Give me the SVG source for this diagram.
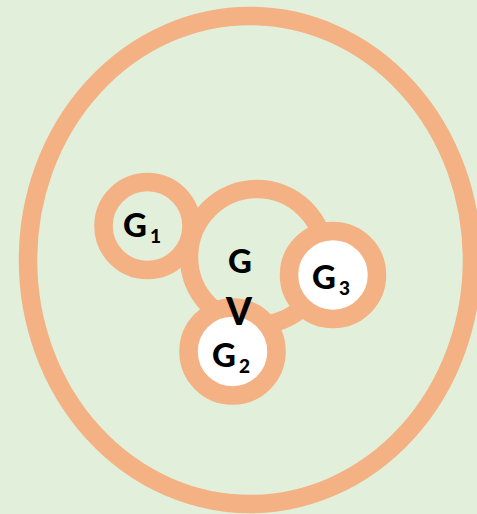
<svg xmlns="http://www.w3.org/2000/svg" width="477" height="514" viewBox="0 0 477 514">
<style>
.ring{stroke:#f4b183;stroke-width:18.5}
.in{fill:#e2efda}
.wh{fill:#ffffff}
.t{font-family:Lato,"DejaVu Sans",sans-serif;font-weight:900;fill:#000}
.m{font-size:33px}
.s{font-size:19px}
</style>
<rect width="477" height="514" fill="#e2efda"/>
<g id="outer"><ellipse cx="250" cy="260" rx="222" ry="244" fill="none" class="ring"/></g>
<g id="connectors"></g>
<g id="G1"><circle cx="147.5" cy="226" r="44" class="ring in"/>
<text class="t" x="123" y="237"><tspan class="m">G</tspan><tspan class="s" dx="3" dy="6">1</tspan></text></g>
<g id="G"><circle cx="257" cy="257" r="68" class="ring in"/>
<text class="t m" x="240" y="273" text-anchor="middle">G</text></g>
<g id="G3"><circle cx="333" cy="275" r="44" class="ring wh"/>
<text class="t" x="312" y="289"><tspan class="m">G</tspan><tspan class="s" dx="3" dy="6">3</tspan></text></g>
<g id="G2"><circle cx="232.5" cy="351.5" r="44" class="ring wh"/>
<text class="t" x="212" y="367"><tspan class="m">G</tspan><tspan class="s" dx="3" dy="6">2</tspan></text></g>
<g id="V"><text class="t" x="239" y="325" text-anchor="middle" style="font-size:37px">V</text></g>
</svg>
